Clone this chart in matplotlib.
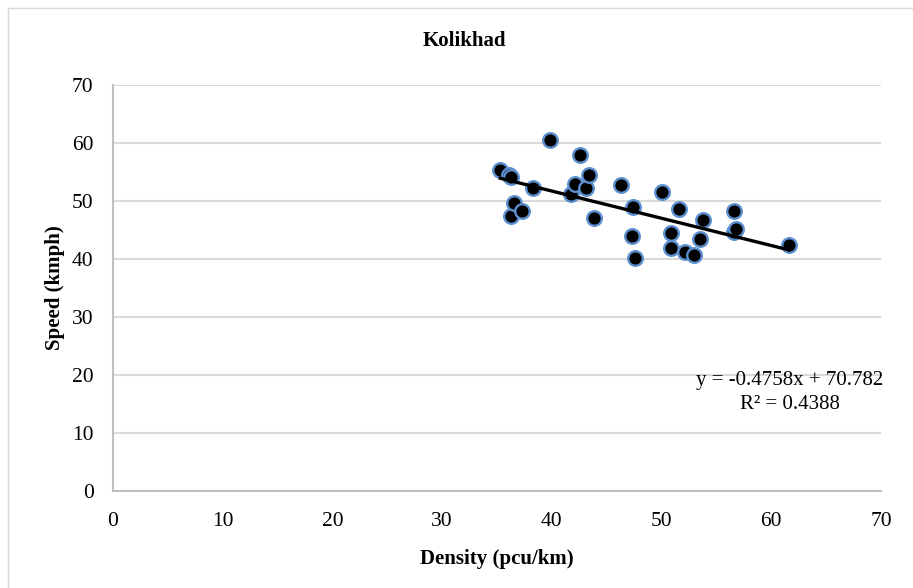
import numpy as np
import matplotlib
matplotlib.use("Agg")
import matplotlib.pyplot as plt
from matplotlib.lines import Line2D

plt.rcParams['font.family'] = ['Liberation Serif', 'DejaVu Serif']

title = "Kolikhad"
x_label = "Density (pcu/km)"
y_label = "Speed (kmph)"
eq_text = "y = -0.4758x + 70.782"
r2_text = "R\u00b2 = 0.4388"

density = [35.3, 36.1, 36.3, 36.3, 36.55, 37.3, 38.3, 39.8, 41.7, 42.1,
           42.6, 43.1, 43.4, 43.8, 46.3, 47.3, 47.4, 47.6, 50.0, 50.9,
           50.9, 51.6, 52.1, 53.0, 53.5, 53.8, 56.6, 56.6, 56.8, 61.6]
speed = [55.3, 54.5, 54.2, 47.5, 49.6, 48.3, 52.3, 60.6, 51.2, 52.9,
         57.9, 52.3, 54.5, 47.0, 52.8, 43.9, 48.9, 40.1, 51.5, 44.5,
         41.9, 48.7, 41.2, 40.7, 43.4, 46.7, 48.3, 44.7, 45.1, 42.4]
ticks = [0, 10, 20, 30, 40, 50, 60, 70]

fig = plt.figure(figsize=(9.13, 5.88), dpi=100)
ax = fig.add_axes([113/913, 1 - 491/588, 768/913, 406/588])

# chart-area border (left and top edges visible)
fig.add_artist(Line2D([8/913, 8/913], [0, 1 - 8/588], transform=fig.transFigure,
                      color='#d9d9d9', linewidth=1.0))
fig.add_artist(Line2D([8/913, 1], [1 - 8/588, 1 - 8/588], transform=fig.transFigure,
                      color='#d9d9d9', linewidth=1.0))

ax.scatter(density, speed, s=110, facecolor='black', edgecolor='#5b8fd0',
           linewidth=1.7, zorder=3)

xs = np.array(density)
coef = np.polyfit(xs, np.array(speed), 1)
xline = np.array([xs.min(), xs.max()])
ax.plot(xline, np.polyval(coef, xline), color='black', linewidth=2.4, zorder=4)

ax.set_xlim(0, 70)
ax.set_ylim(0, 70)
ax.set_xticks(ticks)
ax.set_yticks(ticks)
ax.tick_params(length=0, labelsize=15.5)
ax.tick_params(axis='y', pad=14)
ax.tick_params(axis='x', pad=15)
ax.grid(axis='y', color='#d9d9d9', linewidth=1.5)
ax.set_axisbelow(True)
for s in ['top', 'right']:
    ax.spines[s].set_visible(False)
for s in ['left', 'bottom']:
    ax.spines[s].set_color('#bfbfbf')
    ax.spines[s].set_linewidth(1.5)

ax.set_xlabel(x_label, fontsize=15, fontweight='bold')
ax.set_ylabel(y_label, fontsize=15, fontweight='bold')
ax.xaxis.set_label_coords(0.5, -0.143)
ax.yaxis.set_label_coords(-0.0625, 0.5)

fig.text(464/913, 1 - 41/588, title, fontsize=15, fontweight='bold', ha='center', va='center')

ax.text(0.8815, 0.271, eq_text, transform=ax.transAxes, fontsize=15, ha='center', va='center')
ax.text(0.8815, 0.214, r2_text, transform=ax.transAxes, fontsize=15, ha='center', va='center')

fig.savefig('out.png', dpi=100)
